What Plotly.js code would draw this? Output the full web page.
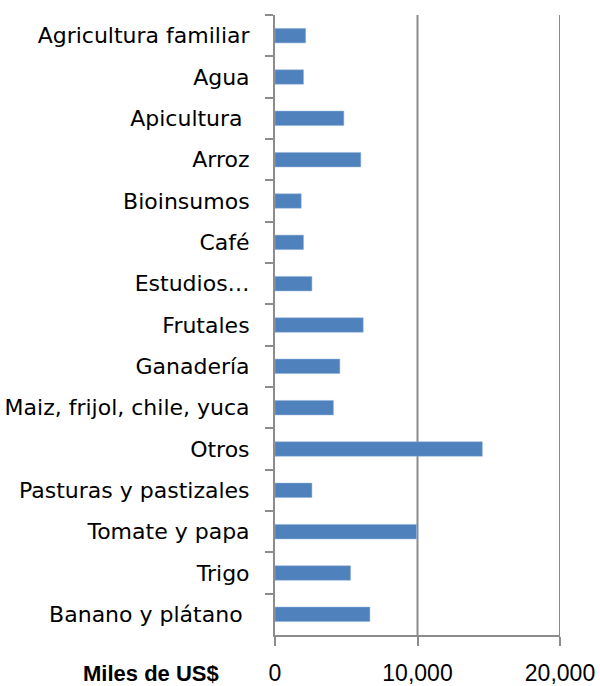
<!DOCTYPE html>
<html>
<head>
<meta charset="utf-8">
<script src="https://cdn.plot.ly/plotly-3.0.1.min.js"></script>
<style>html,body{margin:0;padding:0;background:#fff;}#chart{width:600px;height:686px;}</style>
</head>
<body>
<div id="chart"></div>
<script>
var categories = ["Agricultura familiar", "Agua", "Apicultura\u00a0", "Arroz", "Bioinsumos", "Café", "Estudios…", "Frutales", "Ganadería", "Maiz, frijol, chile, yuca", "Otros", "Pasturas y pastizales", "Tomate y papa", "Trigo", "Banano y plátano\u00a0"];
var values = [2150, 2000, 4830, 6020, 1840, 2000, 2590, 6190, 4550, 4100, 14550, 2590, 9930, 5300, 6660];
var tickVals = [0, 10000, 20000];
var tickText = ["0", "10,000", "20,000"];

var trace = {
  type: "bar",
  orientation: "h",
  y: categories,
  x: values,
  width: 0.35,
  marker: {color: "#4F81BD", line: {color: "#8FB0D8", width: 0.5}},
  hoverinfo: "x+y"
};

var gridShapes = tickVals.slice(1).map(function (v) {
  return {type: "line", xref: "x", yref: "paper", x0: v, x1: v, y0: 0, y1: 1,
          line: {color: "#8c8c8c", width: 2}, layer: "below"};
});

var layout = {
  width: 600,
  height: 686,
  margin: {l: 275, r: 40, t: 15, b: 51},
  paper_bgcolor: "#fff",
  plot_bgcolor: "#fff",
  showlegend: false,
  font: {family: "DejaVu Sans, sans-serif", size: 22, color: "#000"},
  shapes: gridShapes,
  xaxis: {
    range: [0, 20000],
    tickvals: tickVals,
    ticktext: tickText,
    showgrid: false,
    zeroline: false,
    showline: true,
    linecolor: "#8c8c8c",
    linewidth: 2,
    ticks: "outside",
    ticklen: 9,
    tickwidth: 2,
    tickcolor: "#8c8c8c",
    ticklabelstandoff: 7,
    tickfont: {family: "Liberation Sans, Arial, sans-serif", size: 23},
    fixedrange: true
  },
  yaxis: {
    type: "category",
    categoryorder: "array",
    categoryarray: categories,
    autorange: "reversed",
    showgrid: false,
    zeroline: false,
    showline: true,
    linecolor: "#8c8c8c",
    linewidth: 2,
    ticks: "outside",
    tickson: "boundaries",
    ticklen: 8,
    tickwidth: 2,
    tickcolor: "#8c8c8c",
    ticklabelstandoff: 19,
    tickfont: {family: "DejaVu Sans, sans-serif", size: 22},
    fixedrange: true
  },
  annotations: [{
    text: "<b>Miles de US$</b>",
    xref: "paper", yref: "paper",
    x: -0.19, y: 0, xanchor: "right", yanchor: "middle",
    yshift: -38,
    showarrow: false,
    font: {family: "Liberation Sans, Arial, sans-serif", size: 22, color: "#000"}
  }]
};

Plotly.newPlot("chart", [trace], layout, {displayModeBar: false, staticPlot: true});
</script>
</body>
</html>
